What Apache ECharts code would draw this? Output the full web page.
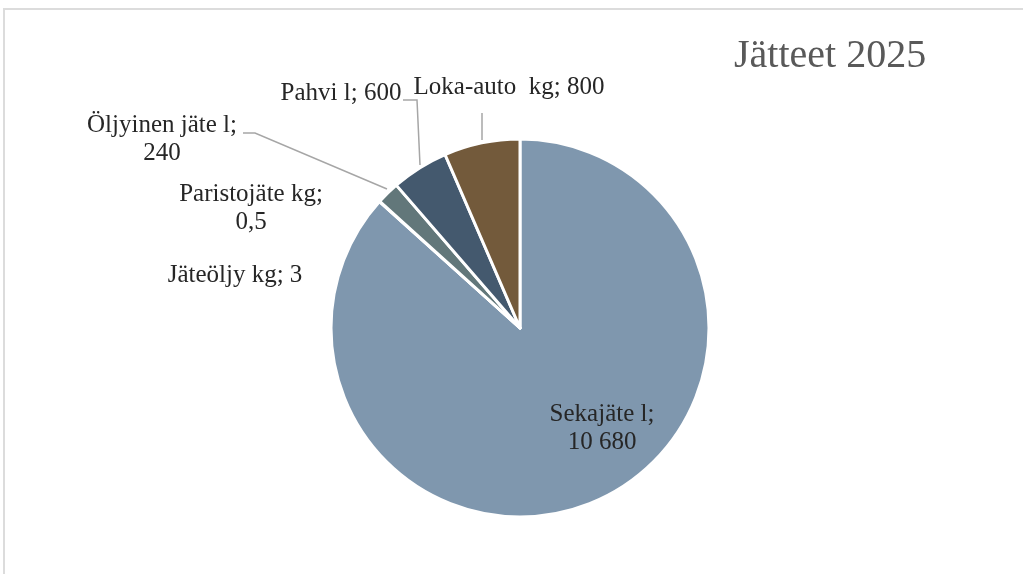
<!DOCTYPE html>
<html>
<head>
<meta charset="utf-8">
</head>
<body style="margin: 0; background: #fff">
<div id="frame" style="position: absolute; left: 3px; top: 8px; width: 1020px; height: 566px; border-top: 2px solid #dcdcdc; border-left: 2px solid #dcdcdc; box-sizing: border-box;"></div>
<div id="container" style="position: absolute; left: 0; top: 0; width: 1023px; height: 574px;"></div>

<script src="https://cdn.jsdelivr.net/npm/echarts@6/dist/echarts.min.js"></script>
<script type="text/javascript">
    // waste amounts 2025, in the order Excel draws them (clockwise from 12 o'clock)
    var names = ['Sekajäte l', 'Jäteöljy kg', 'Paristojäte kg', 'Öljyinen jäte l', 'Pahvi l', 'Loka-auto  kg'];
    var values = [10680, 3, 0.5, 240, 600, 800];
    var colors = ['#7f97ae', '#9aabbd', '#5b6d80', '#62777a', '#44596e', '#735a3b'];
    var titleText = 'Jätteet 2025';

    // finnish number style: "10 680", "0,5"
    function fmt(v) {
        var s = String(v).split('.');
        var intPart = s[0].replace(/\B(?=(\d{3})+(?!\d))/g, ' ');
        return s.length > 1 ? intPart + ',' + s[1] : intPart;
    }

    // where Excel put each data label (centre of text block) and its leader line
    var labelPos = [
        { x: 602, y: 428, wrap: true },
        { x: 235, y: 275, wrap: false },
        { x: 251, y: 208, wrap: true },
        { x: 162, y: 139, wrap: true, line: [[387, 189], [255, 133], [243, 133]] },
        { x: 341, y: 93, wrap: false, line: [[420, 165], [417, 100], [403, 100]] },
        { x: 509, y: 87, wrap: false, line: [[482, 140], [482, 113]] }
    ];

    var dom = document.getElementById('container');
    var myChart = echarts.init(dom);

    var pieData = names.map(function (n, i) {
        var item = { name: n, value: values[i], itemStyle: { color: colors[i] } };
        if (!labelPos[i].line) {
            item.labelLine = { show: false };
        }
        return item;
    });

    var option = {
        animation: false,
        title: {
            text: titleText,
            left: 734,
            top: 36,
            padding: 0,
            textStyle: {
                fontFamily: 'Liberation Serif',
                fontSize: 40,
                fontWeight: 'normal',
                color: '#595959'
            }
        },
        series: [{
            type: 'pie',
            center: [520, 328],
            radius: 189,
            startAngle: 90,
            clockwise: true,
            avoidLabelOverlap: false,
            itemStyle: {
                borderColor: '#fff',
                borderWidth: 3
            },
            label: {
                show: true,
                fontFamily: 'Liberation Serif',
                fontSize: 25,
                lineHeight: 28,
                color: '#262626',
                formatter: function (p) {
                    var sep = labelPos[p.dataIndex].wrap ? ';\n' : '; ';
                    return p.name + sep + fmt(p.value);
                }
            },
            labelLine: {
                show: true,
                lineStyle: { color: '#a6a6a6', width: 1.5 }
            },
            labelLayout: function (params) {
                var lp = labelPos[params.dataIndex];
                var res = { x: lp.x, y: lp.y, align: 'center', verticalAlign: 'middle' };
                if (lp.line) {
                    res.labelLinePoints = lp.line;
                }
                return res;
            },
            emphasis: { disabled: true },
            data: pieData
        }]
    };

    myChart.setOption(option);
</script>
</body>
</html>
